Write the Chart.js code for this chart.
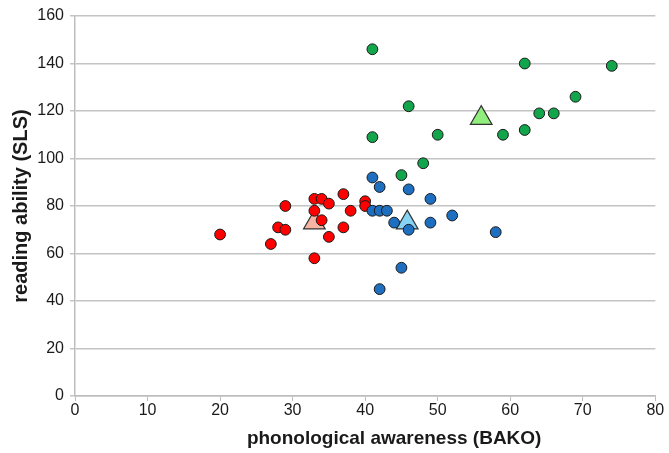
<!DOCTYPE html>
<html>
<head>
<meta charset="utf-8">
<script src="https://cdn.jsdelivr.net/npm/chart.js@4"></script>
<style>
    html, body { margin: 0; padding: 0; background: #fff; }
    #wrap { width: 669px; height: 453px; }
</style>
</head>
<body>
<div id="wrap"><canvas id="chart"></canvas></div>
<script>
// BAKO (x) vs SLS (y), three groups plus group means
const redX = [20, 27, 28, 29, 29, 33, 34, 35, 33, 34, 33, 35, 37, 37, 38, 40, 40];
const redY = [68, 64, 71, 70, 80, 83, 83, 81, 78, 74, 58, 67, 85, 71, 78, 82, 80];

const blueX = [41, 42, 41, 42, 43, 44, 46, 46, 49, 49, 52, 58, 45, 42];
const blueY = [92, 88, 78, 78, 78, 73, 87, 70, 83, 73, 76, 69, 54, 45];

const greenX = [41, 62, 74, 46, 69, 64, 66, 59, 62, 50, 41, 48, 45];
const greenY = [146, 140, 139, 122, 126, 119, 119, 110, 112, 110, 109, 98, 93];

const meanX = [33, 45.8, 56];
const meanY = [73, 73, 117];

const xTicks = [0, 10, 20, 30, 40, 50, 60, 70, 80];
const yTicks = [0, 20, 40, 60, 80, 100, 120, 140, 160];

const xTitle = 'phonological awareness (BAKO)';
const yTitle = 'reading ability (SLS)';

const toPoints = (xs, ys) => xs.map((x, i) => ({ x: x, y: ys[i] }));

const font = "'Liberation Sans', Arial, sans-serif";

function dots(xs, ys, color, order) {
    return {
        data: toPoints(xs, ys),
        backgroundColor: color,
        borderColor: '#1a1a1a',
        borderWidth: 1,
        pointRadius: 5.4,
        order: order
    };
}

// x title sits a bit right of the plot centre in the original
const xTitlePlugin = {
    id: 'xTitle',
    afterDraw(chart) {
        const ctx = chart.ctx;
        const area = chart.chartArea;
        ctx.save();
        ctx.font = 'bold 19px ' + font;
        ctx.fillStyle = '#1a1a1a';
        ctx.textAlign = 'center';
        ctx.textBaseline = 'middle';
        ctx.fillText(xTitle, area.left + (area.right - area.left) * 0.55, area.bottom + 43);
        ctx.restore();
    }
};

new Chart(document.getElementById('chart'), {
    type: 'scatter',
    data: {
        datasets: [
            dots(redX, redY, '#ff0000', 3),
            dots(blueX, blueY, '#1f6fc1', 2),
            dots(greenX, greenY, '#13a54b', 1),
            {
                data: toPoints(meanX, meanY),
                pointStyle: 'triangle',
                pointRadius: 12.5,
                backgroundColor: ['#f8b4a2', '#86d3f3', '#90ee7c'],
                borderColor: '#333333',
                borderWidth: 1.2,
                order: 4
            }
        ]
    },
    plugins: [xTitlePlugin],
    options: {
        responsive: true,
        maintainAspectRatio: false,
        animation: false,
        layout: { padding: { top: 16, right: 10, left: 0, bottom: 0 } },
        plugins: {
            legend: { display: false },
            tooltip: { enabled: false }
        },
        scales: {
            x: {
                type: 'linear',
                min: 0,
                max: 80,
                afterFit: s => { s.height = 57; },
                afterBuildTicks: s => { s.ticks = xTicks.map(v => ({ value: v })); },
                grid: { drawOnChartArea: false, drawTicks: true, tickLength: 5, color: '#bdbdbd' },
                border: { color: '#bdbdbd', width: 1.5 },
                ticks: { color: '#1a1a1a', font: { family: font, size: 16 }, padding: 0 }
            },
            y: {
                type: 'linear',
                min: 0,
                max: 160,
                afterFit: s => { s.width = 75; },
                afterBuildTicks: s => { s.ticks = yTicks.map(v => ({ value: v })); },
                grid: { drawTicks: true, tickLength: 5, color: '#c4c4c4', lineWidth: 1.5 },
                border: { color: '#bdbdbd', width: 1.5 },
                ticks: { color: '#1a1a1a', font: { family: font, size: 16 }, padding: 6 },
                title: {
                    display: true,
                    text: yTitle,
                    color: '#1a1a1a',
                    font: { family: font, size: 20, weight: 'bold' },
                    padding: { top: 9, bottom: 0 }
                }
            }
        }
    }
});
</script>
</body>
</html>
